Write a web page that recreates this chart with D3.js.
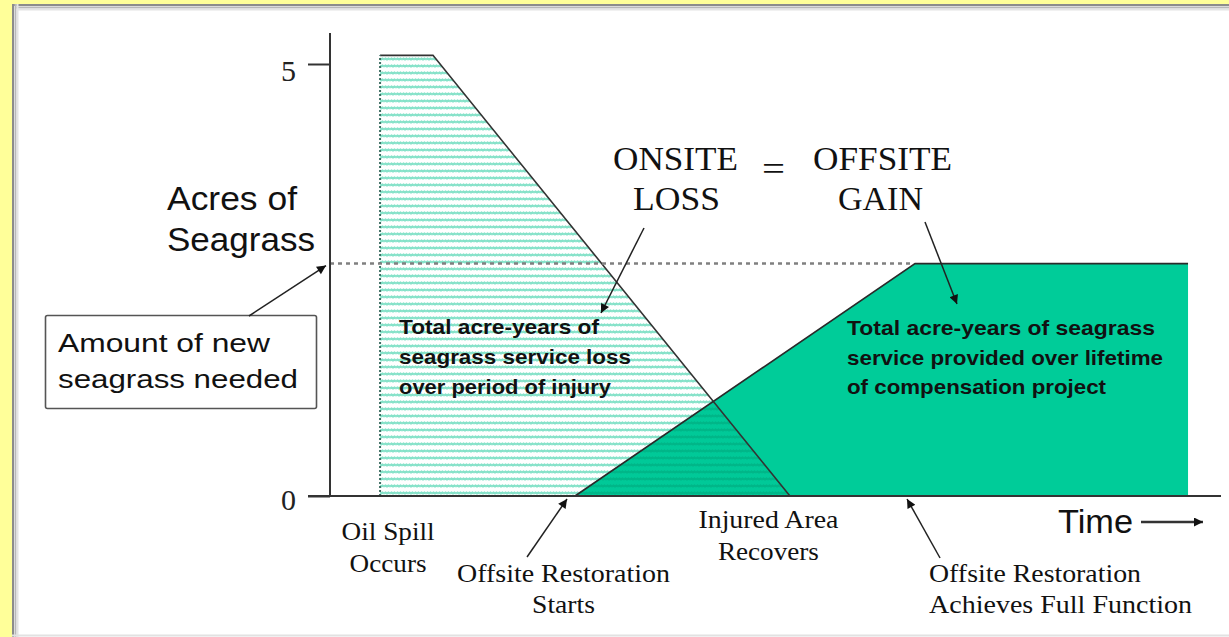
<!DOCTYPE html>
<html>
<head>
<meta charset="utf-8">
<script src="https://cdn.jsdelivr.net/npm/d3@7"></script>
<style>
body { margin: 0; background: #ffff99; }
svg { display: block; }
</style>
</head>
<body>
<div class="canvas"></div>
<script>
var w = 1229;
var h = 637;

// acres of seagrass (y) against time (x, arbitrary units)
var yTicks = [0, 5];
var neededAcres = 2.69;
var onsiteLoss = [[2.81, 0], [2.81, 5.1], [5.78, 5.1], [25.81, 0]];
var offsiteGain = [[13.75, 0], [32.83, 2.69], [48.15, 2.69], [48.15, 0]];
var eventTimes = [2.81, 13.75, 25.81, 32.83];
var eventLabels = [["Oil Spill", "Occurs"], ["Offsite Restoration", "Starts"],
    ["Injured Area", "Recovers"], ["Offsite Restoration", "Achieves Full Function"]];
var lossText = ["Total acre-years of", "seagrass service loss", "over period of injury"];
var gainText = ["Total acre-years of seagrass", "service provided over lifetime", "of compensation project"];
var yTitle = ["Acres of", "Seagrass"];
var boxText = ["Amount of new", "seagrass needed"];
var headline = [["ONSITE", "LOSS"], ["OFFSITE", "GAIN"]];

var serif = "'Liberation Serif', 'Times New Roman', serif";
var sans = "'Liberation Sans', Arial, sans-serif";

var xScale = d3.scaleLinear()
    .domain([0, 50])
    .range([330, 1221]);

var yScale = d3.scaleLinear()
    .domain([0, 5])
    .range([496, 64]);

var svg = d3.select(".canvas").append("svg")
    .attr("width", w)
    .attr("height", h);

var defs = svg.append("defs");

// light hatch for the onsite loss
var hatch = defs.append("pattern")
    .attr("id", "hatch")
    .attr("patternUnits", "userSpaceOnUse")
    .attr("width", 6)
    .attr("height", 7);
hatch.append("rect").attr("width", 6).attr("height", 7).attr("fill", "#fff");
hatch.append("path")
    .attr("d", "M0,3.5 L1.5,2.6 L3,3.5 L4.5,2.6 L6,3.5")
    .attr("stroke", "#86e2c9")
    .attr("stroke-width", 2.3)
    .attr("fill", "none");

// darker stripes where loss and gain overlap
var hatch2 = defs.append("pattern")
    .attr("id", "hatch2")
    .attr("patternUnits", "userSpaceOnUse")
    .attr("width", 6)
    .attr("height", 7);
hatch2.append("rect").attr("width", 6).attr("height", 7).attr("fill", "#00c998");
hatch2.append("path")
    .attr("d", "M0,3.5 L1.5,2.6 L3,3.5 L4.5,2.6 L6,3.5")
    .attr("stroke", "#00b688")
    .attr("stroke-width", 2.3)
    .attr("fill", "none");

defs.append("marker")
    .attr("id", "head")
    .attr("viewBox", "0 0 10 10")
    .attr("refX", 10)
    .attr("refY", 5)
    .attr("markerWidth", 12)
    .attr("markerHeight", 9)
    .attr("markerUnits", "userSpaceOnUse")
    .attr("orient", "auto")
    .append("path")
    .attr("d", "M0,0 L10,5 L0,10 z")
    .attr("fill", "#111");

// white panel with its shadowed edge
svg.append("rect").attr("x", 12).attr("y", 4).attr("width", w - 12).attr("height", h - 4).attr("fill", "#fff");
[["#8c8c8c", 13], ["#b8b8b8", 15.5], ["#e4e4e4", 17.5]].forEach(function (s) {
    svg.append("line").attr("x1", s[1]).attr("x2", s[1]).attr("y1", 4).attr("y2", h)
        .attr("stroke", s[0]).attr("stroke-width", 2);
    svg.append("line").attr("x1", s[1]).attr("x2", w).attr("y1", s[1] - 8).attr("y2", s[1] - 8)
        .attr("stroke", s[0]).attr("stroke-width", 2);
});
svg.append("line").attr("x1", 12).attr("x2", w).attr("y1", 635.5).attr("y2", 635.5)
    .attr("stroke", "#e2e2e2").attr("stroke-width", 2);

var line = d3.line()
    .x(function (d) { return xScale(d[0]); })
    .y(function (d) { return yScale(d[1]); });

// where the recovery line crosses the restoration line
function cross(a, b, c, d) {
    var t = ((c[0] - a[0]) * (d[1] - c[1]) - (c[1] - a[1]) * (d[0] - c[0])) /
        ((b[0] - a[0]) * (d[1] - c[1]) - (b[1] - a[1]) * (d[0] - c[0]));
    return [a[0] + t * (b[0] - a[0]), a[1] + t * (b[1] - a[1])];
}
var meet = cross(onsiteLoss[2], onsiteLoss[3], offsiteGain[0], offsiteGain[1]);

var plot = svg.append("g");

plot.append("path")
    .attr("d", line(onsiteLoss) + "Z")
    .attr("fill", "url(#hatch)");

plot.append("path")
    .attr("d", line(offsiteGain) + "Z")
    .attr("fill", "#00cc99");

plot.append("path")
    .attr("d", line([offsiteGain[0], meet, onsiteLoss[3]]) + "Z")
    .attr("fill", "url(#hatch2)");

// outlines
plot.append("path")
    .attr("d", line(onsiteLoss.slice(1)))
    .attr("fill", "none")
    .attr("stroke", "#333")
    .attr("stroke-width", 1.6);
plot.append("path")
    .attr("d", line(onsiteLoss.slice(0, 2)))
    .attr("fill", "none")
    .attr("stroke", "#3c6e62")
    .attr("stroke-width", 2)
    .attr("stroke-dasharray", "2,2");
plot.append("path")
    .attr("d", line(offsiteGain.slice(0, 3)))
    .attr("fill", "none")
    .attr("stroke", "#2a2a2a")
    .attr("stroke-width", 1.6);

// amount needed level
plot.append("line")
    .attr("x1", xScale(0))
    .attr("x2", xScale(offsiteGain[1][0]) - 4)
    .attr("y1", yScale(neededAcres))
    .attr("y2", yScale(neededAcres))
    .attr("stroke", "#808080")
    .attr("stroke-width", 2.5)
    .attr("stroke-dasharray", "4,4");

// axes
var yAxis = d3.axisLeft(yScale)
    .tickValues(yTicks)
    .tickFormat(d3.format("d"))
    .tickSize(22)
    .tickPadding(12);
var ya = svg.append("g")
    .attr("transform", "translate(" + xScale(0) + ",0)")
    .call(yAxis);
ya.select(".domain").remove();
ya.selectAll(".tick line").attr("stroke", "#333").attr("stroke-width", 2);
ya.selectAll(".tick text")
    .attr("dy", function (d) { return d == 5 ? "0.55em" : "0.45em"; })
    .attr("fill", "#222")
    .style("font-family", serif)
    .style("font-size", "30px");

svg.append("line")
    .attr("x1", xScale(0)).attr("x2", xScale(0))
    .attr("y1", 33).attr("y2", yScale(0))
    .attr("stroke", "#333").attr("stroke-width", 2);
svg.append("line")
    .attr("x1", xScale(0) - 22).attr("x2", xScale.range()[1])
    .attr("y1", yScale(0)).attr("y2", yScale(0))
    .attr("stroke", "#333").attr("stroke-width", 2);

function addText(g, str, x, y, size, family, len, anchor, weight) {
    var t = g.append("text")
        .attr("x", x)
        .attr("y", y)
        .attr("fill", "#111")
        .attr("text-anchor", anchor || "start")
        .style("font-family", family)
        .style("font-size", size + "px")
        .style("font-weight", weight || "normal")
        .text(str);
    if (len) t.attr("textLength", len).attr("lengthAdjust", "spacingAndGlyphs");
    return t;
}

var labels = svg.append("g");

// y title
addText(labels, yTitle[0], 167, 210, 34, sans, 130);
addText(labels, yTitle[1], 167, 251, 34, sans, 148);

// box
labels.append("rect")
    .attr("x", 45.5).attr("y", 315.5).attr("width", 271).attr("height", 93).attr("rx", 2)
    .attr("fill", "#fff").attr("stroke", "#555").attr("stroke-width", 1.6);
addText(labels, boxText[0], 58, 352, 26, sans, 212);
addText(labels, boxText[1], 58, 388, 26, sans, 240);

// text inside areas
var lossLen = [200, 232, 212];
lossText.forEach(function (s, i) {
    addText(labels, s, 399, 334 + i * 30, 21, sans, lossLen[i], "start", "bold");
});
var gainLen = [308, 316, 259];
gainText.forEach(function (s, i) {
    addText(labels, s, 847, 335 + i * 29.5, 21, sans, gainLen[i], "start", "bold");
});

// ONSITE LOSS = OFFSITE GAIN
addText(labels, headline[0][0], 675.5, 170, 33, serif, 125, "middle");
addText(labels, headline[0][1], 676.5, 210, 33, serif, 87, "middle");
addText(labels, "=", 773.5, 180, 33, serif, 23, "middle");
addText(labels, headline[1][0], 882.5, 170, 33, serif, 139, "middle");
addText(labels, headline[1][1], 880.5, 210, 33, serif, 85, "middle");

// event labels under the time axis
var evLayout = [
    { anchor: "middle", dx: 8, y: [540, 572], len: [93, 77] },
    { anchor: "middle", dx: -11.5, y: [582, 613], len: [213, 63] },
    { anchor: "middle", dx: -21.5, y: [528, 560], len: [140, 101] },
    { anchor: "start", dx: 14, y: [582, 613], len: [212, 263] }
];
eventLabels.forEach(function (lines, i) {
    var L = evLayout[i];
    lines.forEach(function (s, j) {
        addText(labels, s, xScale(eventTimes[i]) + L.dx, L.y[j], 26, serif, L.len[j], L.anchor);
    });
});

addText(labels, "Time", 1058, 533, 34, sans, 75);

// arrows
var arrows = [
    [[249, 316], [xScale(0) - 4, yScale(neededAcres) + 2]],
    [[644, 228], [601, 313]],
    [[925, 222], [957, 304]],
    [[xScale(eventTimes[1]) - 48, 557], [xScale(eventTimes[1]) - 8, 499]],
    [[xScale(eventTimes[3]) + 25, 558], [xScale(eventTimes[3]) - 8, 499]],
    [[1141, 522], [1203, 522]]
];
arrows.forEach(function (a, i) {
    svg.append("line")
        .attr("x1", a[0][0]).attr("y1", a[0][1])
        .attr("x2", a[1][0]).attr("y2", a[1][1])
        .attr("stroke", i == 5 ? "#333" : "#222")
        .attr("stroke-width", i == 5 ? 2.5 : 1.5)
        .attr("marker-end", "url(#head)");
});
</script>
</body>
</html>
